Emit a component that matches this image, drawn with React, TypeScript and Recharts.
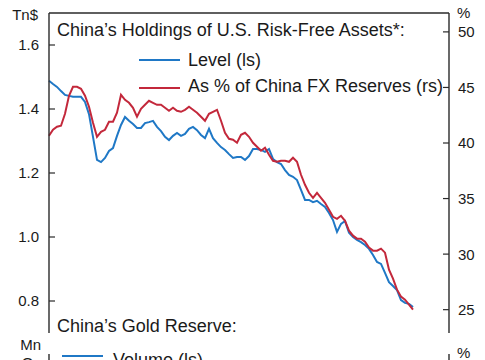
import React from "react";
import { LineChart, Line, XAxis, YAxis, ReferenceLine } from "recharts";

// China's holdings of U.S. risk-free assets, level (Tn$), left scale
const levelTn: number[] = [
  1.488, 1.478, 1.469, 1.456, 1.444, 1.441, 1.438, 1.438, 1.438, 1.422,
  1.384, 1.313, 1.241, 1.234, 1.247, 1.269, 1.278, 1.316, 1.35, 1.375,
  1.363, 1.353, 1.341, 1.341, 1.356, 1.359, 1.363, 1.344, 1.331, 1.313,
  1.303, 1.316, 1.325, 1.316, 1.322, 1.338, 1.344, 1.334, 1.319, 1.309,
  1.338, 1.309, 1.294, 1.281, 1.272, 1.259, 1.247, 1.25, 1.25, 1.241,
  1.253, 1.275, 1.275, 1.272, 1.266, 1.275, 1.244, 1.234, 1.228, 1.209,
  1.194, 1.188, 1.178, 1.147, 1.116, 1.116, 1.109, 1.113, 1.103, 1.094,
  1.075, 1.053, 1.016, 1.041, 1.05, 1.013, 1.0, 0.991, 0.984, 0.975,
  0.963, 0.944, 0.922, 0.916, 0.888, 0.859, 0.847, 0.834, 0.803, 0.794,
  0.791, 0.781,
];

// As % of China FX reserves, right scale
const pctReserves: number[] = [
  40.65, 41.19, 41.46, 41.55, 42.63, 44.25, 45.06, 45.06, 44.88, 44.25,
  43.26, 41.82, 40.56, 41.01, 41.19, 41.91, 41.91, 42.72, 44.34, 43.89,
  43.62, 43.17, 42.36, 43.08, 43.44, 43.8, 43.62, 43.44, 43.44, 43.17,
  42.9, 43.17, 42.9, 42.81, 42.99, 43.26, 42.99, 42.72, 42.36, 42.0,
  42.63, 42.81, 42.99, 42.0, 40.92, 40.38, 40.29, 40.02, 40.74, 40.92,
  40.56, 40.02, 39.66, 39.3, 39.57, 38.94, 38.4, 38.31, 38.4, 38.4,
  38.31, 38.67, 38.31, 37.14, 36.24, 35.52, 35.07, 35.52, 35.07, 34.62,
  33.99, 33.36, 33.18, 33.45, 33.0, 32.11, 31.66, 31.39, 31.39, 31.12,
  30.58, 30.31, 30.31, 30.49, 30.13, 28.6, 27.79, 26.8, 26.17, 25.9,
  25.45, 25.0,
];

const leftTicks: number[] = [0.8, 1.0, 1.2, 1.4, 1.6];
const rightTicks: number[] = [25, 30, 35, 40, 45, 50];

const data = levelTn.map((v, i) => ({ i, level: v, pct: pctReserves[i] }));

const FONT = "'Liberation Sans', Arial, sans-serif";
const INK = "#1a1a1a";
const AXIS = "#2a2a2a";
const BLUE = "#1f78c6";
const RED = "#c3283b";

const LeftTick = (props: any) => {
  const { x, y, payload } = props;
  return (
    <g>
      <line x1={x + 10} x2={x + 16} y1={y} y2={y} stroke={AXIS} strokeWidth={1.2} />
      <text x={x} y={y} dy="0.36em" textAnchor="end" fontSize={15} fontFamily={FONT} fill={INK}>
        {Number(payload.value).toFixed(1)}
      </text>
    </g>
  );
};

const RightTick = (props: any) => {
  const { x, y, payload } = props;
  return (
    <g>
      <line x1={x - 9} x2={x - 15} y1={y} y2={y} stroke={AXIS} strokeWidth={1.2} />
      <text x={x} y={y} dy="0.36em" textAnchor="start" fontSize={15} fontFamily={FONT} fill={INK}>
        {payload.value}
      </text>
    </g>
  );
};

export default function App() {
  return (
    <div style={{ position: "absolute", left: 0, top: 0, width: 485, height: 360, background: "#fff", overflow: "hidden" }}>
      <LineChart width={485} height={360} data={data} margin={{ top: 13, right: 0, bottom: 27, left: 0 }}>
        <XAxis dataKey="i" type="number" domain={[0, 100]} hide />
        <YAxis
          yAxisId="left"
          orientation="left"
          width={49}
          domain={[0.7, 1.7]}
          ticks={leftTicks}
          allowDataOverflow
          tickSize={0}
          tickMargin={10}
          tickLine={false}
          axisLine={{ stroke: AXIS, strokeWidth: 1.4 }}
          tick={<LeftTick />}
          interval={0}
        />
        <YAxis
          yAxisId="right"
          orientation="right"
          width={36}
          domain={[22.9, 51.7]}
          ticks={rightTicks}
          allowDataOverflow
          tickSize={0}
          tickMargin={9}
          tickLine={false}
          axisLine={{ stroke: AXIS, strokeWidth: 1.4 }}
          tick={<RightTick />}
          interval={0}
        />
        <ReferenceLine yAxisId="left" y={1.7} stroke={AXIS} strokeWidth={1.4} />
        <Line yAxisId="left" dataKey="level" stroke={BLUE} strokeWidth={2} dot={false} isAnimationActive={false} />
        <Line yAxisId="right" dataKey="pct" stroke={RED} strokeWidth={2} dot={false} isAnimationActive={false} />
      </LineChart>
      <svg width={485} height={360} style={{ position: "absolute", left: 0, top: 0, pointerEvents: "none" }}>
        <g fontFamily={FONT} fill={INK}>
          <text x={38} y={20} fontSize={15} textAnchor="end">Tn$</text>
          <text x={457} y={18} fontSize={15}>%</text>
          <text x={57} y={35.5} fontSize={18}>China’s Holdings of U.S. Risk-Free Assets*:</text>
          <line x1={139} x2={180} y1={60} y2={60} stroke={BLUE} strokeWidth={2} />
          <text x={188} y={65.5} fontSize={18}>Level (ls)</text>
          <line x1={139} x2={180} y1={88} y2={88} stroke={RED} strokeWidth={2} />
          <text x={188} y={92} fontSize={18}>As % of China FX Reserves (rs)</text>
          <text x={57} y={331.5} fontSize={18}>China’s Gold Reserve:</text>
          <text x={41} y={349.5} fontSize={15} textAnchor="end">Mn</text>
          <text x={41} y={368} fontSize={15} textAnchor="end">Oz</text>
          <line x1={62} x2={103} y1={356} y2={356} stroke={BLUE} strokeWidth={2} />
          <text x={113} y={366} fontSize={18}>Volume (ls)</text>
          <text x={457} y={358} fontSize={15}>%</text>
          <line x1={49} x2={49} y1={354} y2={362} stroke={AXIS} strokeWidth={1.4} />
          <line x1={449} x2={449} y1={354} y2={362} stroke={AXIS} strokeWidth={1.4} />
        </g>
      </svg>
    </div>
  );
}
